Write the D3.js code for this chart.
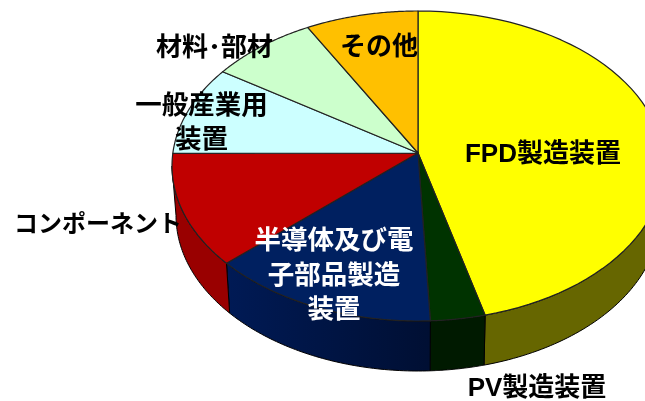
<!DOCTYPE html>
<html>
<head>
<meta charset="utf-8">
<script src="https://cdn.jsdelivr.net/npm/d3@7"></script>
<style>
html,body{margin:0;padding:0;background:#fff;overflow:hidden}
svg{display:block;filter:blur(0.35px)}
text{font-family:"Liberation Sans","Noto Sans CJK JP",sans-serif;font-weight:bold}
</style>
</head>
<body>
<div id="chart"></div>
<script>
const categories = ["FPD製造装置","PV製造装置","半導体及び電子部品製造装置","コンポーネント","一般産業用装置","材料･部材","その他"];
const shares = [45.6,3.6,15,12.1,9.1,7.2,7.4];
const topColors = ["#ffff00","#003300","#002060","#c00000","#ccffff","#ccffcc","#ffc000"];
const sideColors = ["#666600","#001a00","url(#navyRim)","#990000","#7a9999","#7a997a","#997300"];
const labelLines = [["FPD製造装置"],["PV製造装置"],["半導体及び電","子部品製造","装置"],["コンポーネント"],["一般産業用","装置"],["材料･部材"],["その他"]];
const labelColors = ["#000","#000","#fff","#000","#000","#000","#000"];
const labelSize = [26,26,26.5,24,26.5,26,26];
const labelX = [543,537,334,98,201.5,214.5,379];
const labelY = [153,387,240,224,105,47,46];

const width = 645;
const height = 401;
const lineGap = [0,0,34.5,0,33.5,0,0];

const svg = d3.select("#chart")
.append("svg")
.attr("width",width)
.attr("height",height)
.attr("viewBox",`0 0 ${width} ${height}`);

const navy = svg.append("defs").append("linearGradient").attr("id","navyRim");
navy.append("stop").attr("offset","0%").attr("stop-color","#001a55");
navy.append("stop").attr("offset","100%").attr("stop-color","#000f33");

// tilted disc: top face and the rim below it, slightly narrower
const xTop = d3.scaleLinear().domain([-1,1]).range([172,664]);
const yTop = d3.scaleLinear().domain([-1,1]).range([11,321]);
const xBot = d3.scaleLinear().domain([-1,1]).range([176,660]);
const yBot = d3.scaleLinear().domain([-1,1]).range([60,371]);
const apex = [418,153];

const pie = d3.pie().sort(null).value(d=>d)(shares);

const topPt = a=>[xTop(Math.sin(a)),yTop(-Math.cos(a))];
const botPt = a=>[xBot(Math.sin(a)),yBot(-Math.cos(a))];
const steps = (a,b)=>d3.range(0,1.0001,1/60).map(t=>a+(b-a)*t);
const line = d3.line();

// rim first, only the part facing us
pie.forEach((d,i)=>{
  const a = Math.max(d.startAngle,Math.PI/2);
  const b = Math.min(d.endAngle,Math.PI*1.5);
  if(a>=b) return;
  const ang = steps(a,b);
  svg.append("path")
  .attr("d",line(ang.map(topPt).concat(ang.slice().reverse().map(botPt)))+"Z")
  .attr("fill",sideColors[i])
  .attr("stroke","#000")
  .attr("stroke-width",1);
});

svg.selectAll("path.slice")
.data(pie)
.enter()
.append("path")
.attr("class","slice")
.attr("d",d=>line([apex].concat(steps(d.startAngle,d.endAngle).map(topPt)))+"Z")
.attr("fill",(d,i)=>topColors[i])
.attr("stroke","#222")
.attr("stroke-width",1.2)
.attr("stroke-linejoin","round");

labelLines.forEach((lines,i)=>{
  lines.forEach((t,j)=>{
    svg.append("text")
    .attr("x",labelX[i])
    .attr("y",labelY[i]+j*lineGap[i])
    .attr("dy","0.35em")
    .attr("text-anchor","middle")
    .attr("font-size",labelSize[i])
    .attr("fill",labelColors[i])
    .text(t);
  });
});
</script>
</body>
</html>
